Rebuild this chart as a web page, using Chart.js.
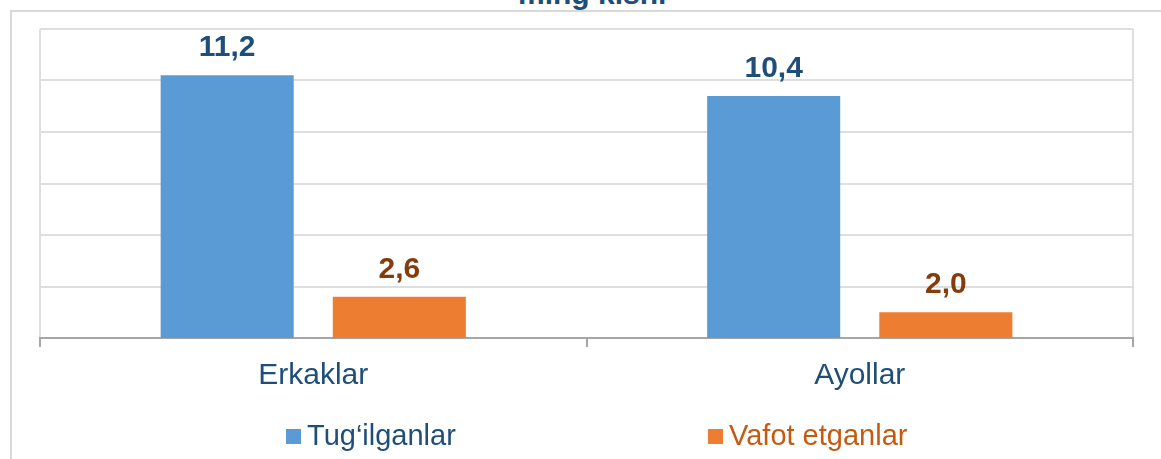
<!DOCTYPE html>
<html>
<head>
<meta charset="utf-8">
<script src="https://cdn.jsdelivr.net/npm/chart.js@4"></script>
<style>
  html, body { margin: 0; padding: 0; background: #fff; overflow: hidden; }
  body { width: 1161px; height: 459px; position: relative; font-family: "Liberation Sans", Arial, sans-serif; }
  #frame { position: absolute; left: 10px; top: 10px; width: 1200px; height: 500px;
           border-left: 2px solid #d9d9d9; border-top: 2px solid #d9d9d9; }
  #title { position: absolute; left: 518px; top: -21px; font: bold 30px/30px "Liberation Sans", Arial, sans-serif;
           color: #1f4e79; white-space: nowrap; }
  #chartBox { position: absolute; left: 0; top: 0; width: 1161px; height: 459px; }
  .lg { position: absolute; top: 420px; font: 29px/30px "Liberation Sans", Arial, sans-serif; white-space: nowrap; }
  .lg span { display: inline-block; width: 15px; height: 15px; margin-right: 6px; vertical-align: 1px; }
</style>
</head>
<body>
<div id="frame"></div>
<div id="title">ming kishi</div>
<div id="chartBox"><canvas id="chart" width="1161" height="459"></canvas></div>
<div class="lg" id="lg0" style="left:286px"></div>
<div class="lg" id="lg1" style="left:708px"></div>
<script>
// data
const categories = ['Erkaklar', 'Ayollar'];
const seriesNames = ['Tug\u2018ilganlar', 'Vafot etganlar'];
const births = [11.2, 10.4];
const deaths = [2.6, 2.0];

const barColors = ['#5b9bd5', '#ed7d31'];
const labelColors = ['#1f4e79', '#843c0c'];
const legendColors = ['#1f4e79', '#c55a11'];

// value labels above bars, comma decimal
const valueLabels = {
    id: 'valueLabels',
    afterDatasetsDraw(chart) {
        const ctx = chart.ctx;
        ctx.save();
        ctx.font = 'bold 30px "Liberation Sans", Arial, sans-serif';
        ctx.textAlign = 'center';
        ctx.textBaseline = 'alphabetic';
        chart.data.datasets.forEach((ds, i) => {
            chart.getDatasetMeta(i).data.forEach((bar, j) => {
                ctx.fillStyle = labelColors[i];
                ctx.fillText(ds.data[j].toFixed(1).replace('.', ','), bar.x, bar.y - 19);
            });
        });
        ctx.restore();
    }
};

const chart = new Chart(document.getElementById('chart'), {
    type: 'bar',
    data: {
        labels: categories,
        datasets: [
            { label: seriesNames[0], data: births, backgroundColor: barColors[0], borderWidth: 0 },
            { label: seriesNames[1], data: deaths, backgroundColor: barColors[1], borderWidth: 0 }
        ]
    },
    options: {
        responsive: false,
        animation: false,
        categoryPercentage: 0.63,
        barPercentage: 0.773,
        layout: { padding: { left: 40, right: 28, top: 29, bottom: 54 } },
        plugins: {
            legend: { display: false },
            tooltip: { enabled: false }
        },
        scales: {
            y: {
                min: 1,
                max: 13,
                ticks: { display: false, stepSize: 2 },
                border: { display: false },
                grid: { color: '#dedede', lineWidth: 2, drawTicks: false }
            },
            x: {
                border: { display: true, color: '#a6a6a6', width: 2 },
                grid: {
                    offset: true,
                    drawOnChartArea: true,
                    color: ctx => ctx.index === 1 ? 'rgba(0,0,0,0)' : '#dedede',
                    lineWidth: 2,
                    tickColor: '#a6a6a6',
                    tickLength: 9
                },
                ticks: {
                    color: '#1f4e79',
                    font: { family: '"Liberation Sans", Arial, sans-serif', size: 30 },
                    padding: 11
                }
            }
        }
    },
    plugins: [valueLabels]
});

// legend as html, colours taken from the datasets
chart.data.datasets.forEach((ds, i) => {
    const el = document.getElementById('lg' + i);
    el.innerHTML = '<span style="background:' + ds.backgroundColor + '"></span>' + ds.label;
    el.style.color = legendColors[i];
});
</script>
</body>
</html>
